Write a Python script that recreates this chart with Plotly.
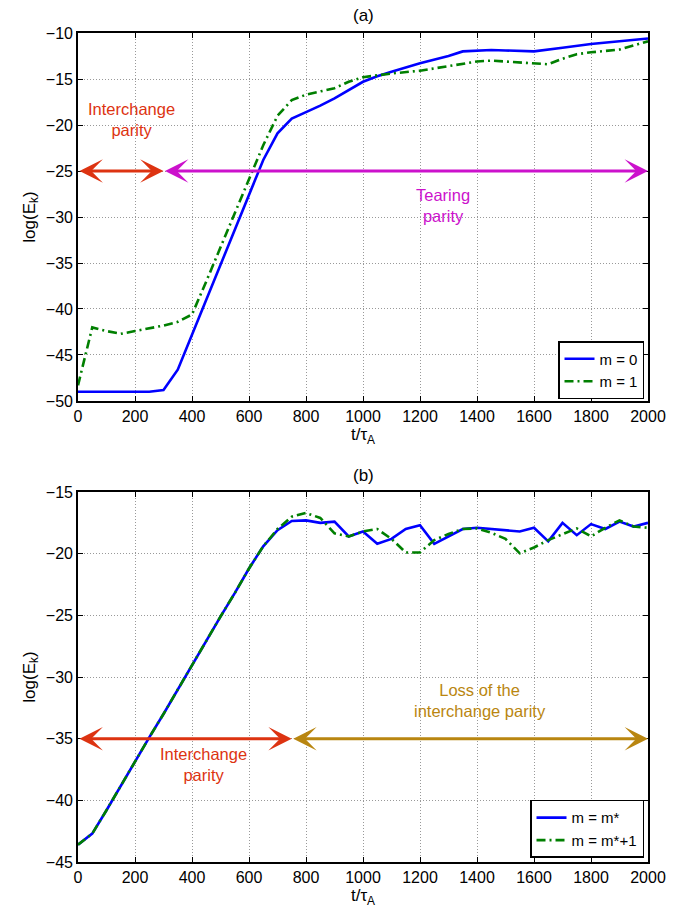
import plotly.graph_objects as go

# ---------------- panel (a) ----------------
t_a_m0 = [0, 50, 100, 150, 200, 250, 300, 350, 400, 450, 500, 550, 600, 650, 700,
          750, 800, 850, 900, 950, 1000, 1050, 1100, 1200, 1300, 1350, 1400, 1450,
          1500, 1600, 1700, 1800, 1900, 2000]
E_a_m0 = [-49.0, -49.0, -49.0, -49.0, -49.0, -49.0, -48.8, -46.6, -42.8, -39.0, -35.2,
          -31.3, -27.5, -23.8, -20.9, -19.3, -18.6, -17.9, -17.1, -16.2, -15.3, -14.7,
          -14.2, -13.3, -12.5, -12.0, -11.9, -11.85, -11.9, -12.0, -11.6, -11.2, -10.9,
          -10.6]

t_a_m1 = [0, 50, 100, 150, 200, 250, 300, 350, 400, 450, 500, 550, 600, 650, 700,
          750, 800, 900, 950, 1000, 1050, 1100, 1200, 1300, 1400, 1450, 1500, 1600,
          1650, 1700, 1750, 1800, 1900, 2000]
E_a_m1 = [-48.3, -42.0, -42.4, -42.7, -42.4, -42.1, -41.8, -41.4, -40.6, -37.0, -33.3,
          -29.6, -26.0, -22.2, -19.0, -17.3, -16.7, -16.0, -15.3, -14.8, -14.6, -14.4,
          -14.1, -13.6, -13.1, -13.0, -13.1, -13.3, -13.4, -12.8, -12.3, -12.1, -11.8,
          -10.9]

# ---------------- panel (b) ----------------
t_b = [0, 50, 100, 150, 200, 250, 300, 350, 400, 450, 500, 550, 600, 650, 700, 750,
       800, 850, 900, 950, 1000, 1050, 1100, 1150, 1200, 1250, 1300, 1350, 1400, 1450,
       1500, 1550, 1600, 1650, 1700, 1750, 1800, 1850, 1900, 1950, 2000]
E_b_mstar = [-43.6, -42.7, -40.8, -38.8, -36.9, -34.9, -33.0, -31.0, -29.0, -27.0, -25.1,
             -23.2, -21.2, -19.4, -18.1, -17.35, -17.3, -17.5, -17.4, -18.6, -18.2, -19.2,
             -18.8, -18.0, -17.7, -19.2, -18.6, -18.0, -17.9, -18.0, -18.1, -18.2, -17.9,
             -19.0, -17.5, -18.5, -17.6, -18.0, -17.4, -17.8, -17.5]
E_b_mstar1 = [-43.6, -42.7, -40.8, -38.8, -36.9, -34.9, -33.0, -31.0, -29.0, -27.0, -25.1,
              -23.2, -21.2, -19.4, -18.0, -17.0, -16.7, -17.1, -18.35, -18.6, -18.2, -18.0,
              -18.8, -19.9, -19.9, -18.9, -18.4, -18.0, -17.95, -18.3, -18.8, -19.97, -19.5,
              -18.9, -18.4, -17.95, -18.6, -17.9, -17.3, -17.8, -17.9]

x_ticks = list(range(0, 2001, 200))
y_ticks_a = list(range(-50, -9, 5))
y_ticks_b = list(range(-45, -14, 5))

BLUE = "#0000FF"
GREEN = "#007F00"
RED = "#DD3311"
MAGENTA = "#CC11CC"
GOLD = "#B98610"
FONT = "Liberation Sans, Arial, Helvetica, sans-serif"

fig = go.Figure()
fig.add_trace(go.Scatter(x=t_a_m0, y=E_a_m0, mode="lines", name="m = 0",
                         line=dict(color=BLUE, width=2.6), xaxis="x", yaxis="y",
                         legend="legend"))
fig.add_trace(go.Scatter(x=t_a_m1, y=E_a_m1, mode="lines", name="m = 1",
                         line=dict(color=GREEN, width=2.6, dash="9px,4px,2px,4px"),
                         xaxis="x", yaxis="y", legend="legend"))
fig.add_trace(go.Scatter(x=t_b, y=E_b_mstar, mode="lines", name="m = m*",
                         line=dict(color=BLUE, width=2.6), xaxis="x2", yaxis="y2",
                         legend="legend2"))
fig.add_trace(go.Scatter(x=t_b, y=E_b_mstar1, mode="lines", name="m = m*+1",
                         line=dict(color=GREEN, width=2.6, dash="9px,4px,2px,4px"),
                         xaxis="x2", yaxis="y2", legend="legend2"))

axis_style = dict(showline=True, linecolor="black", linewidth=1.6, mirror="ticks",
                  ticks="inside", ticklen=5, tickwidth=1, tickcolor="black",
                  showgrid=True, gridcolor="#999999", griddash="1px,2px", gridwidth=1,
                  zeroline=False, tickfont=dict(size=16, color="black"))

fig.update_layout(
    width=691, height=916,
    margin=dict(l=78, r=43, t=33, b=54),
    plot_bgcolor="white", paper_bgcolor="white",
    font=dict(family=FONT, size=16, color="black"),
    xaxis=dict(domain=[0, 1], anchor="y", range=[0, 2000], tickvals=x_ticks,
               title=dict(text="t/τ<sub>A</sub>", standoff=2, font=dict(size=17)),
               **axis_style),
    yaxis=dict(domain=[0.5561, 1], anchor="x", range=[-50, -10], tickvals=y_ticks_a,
               title=dict(text="log(E<sub>k</sub>)", standoff=6, font=dict(size=17)),
               **axis_style),
    xaxis2=dict(domain=[0, 1], anchor="y2", range=[0, 2000], tickvals=x_ticks,
                title=dict(text="t/τ<sub>A</sub>", standoff=2, font=dict(size=17)),
                **axis_style),
    yaxis2=dict(domain=[0, 0.4463], anchor="x2", range=[-45, -15], tickvals=y_ticks_b,
                title=dict(text="log(E<sub>k</sub>)", standoff=6, font=dict(size=17)),
                **axis_style),
    legend=dict(x=0.993, y=0.5585, xanchor="right", yanchor="bottom",
                bgcolor="white", bordercolor="black", borderwidth=1.5,
                font=dict(size=15), itemwidth=30, tracegroupgap=0),
    legend2=dict(x=0.993, y=0.005, xanchor="right", yanchor="bottom",
                 bgcolor="white", bordercolor="black", borderwidth=1.5,
                 font=dict(size=15), itemwidth=30, tracegroupgap=0),
    showlegend=True,
)

def double_arrow(x0, x1, y, color, xref, yref):
    fig.add_annotation(x=x1, y=y, ax=x0, ay=y, xref=xref, yref=yref,
                       axref=xref, ayref=yref, text="", showarrow=True,
                       arrowhead=3, startarrowhead=3, arrowside="end+start",
                       arrowsize=1.3, startarrowsize=1.3, arrowwidth=3,
                       arrowcolor=color, standoff=0, startstandoff=0)

double_arrow(0, 300, -25, RED, "x", "y")
double_arrow(300, 2000, -25, MAGENTA, "x", "y")
double_arrow(0, 750, -35, RED, "x2", "y2")
double_arrow(750, 2000, -35, GOLD, "x2", "y2")

labels = [
    (188, -19.4, "Interchange<br>parity", RED, "x", "y"),
    (1279, -28.7, "Tearing<br>parity", MAGENTA, "x", "y"),
    (440, -37.1, "Interchange<br>parity", RED, "x2", "y2"),
    (1411, -31.9, "Loss of the<br>interchange parity", GOLD, "x2", "y2"),
]
for x, y, txt, col, xr, yr in labels:
    fig.add_annotation(x=x, y=y, xref=xr, yref=yr, text=txt, showarrow=False,
                       font=dict(size=16.5, color=col), align="center")

fig.add_annotation(x=0.5, y=1.0217, xref="paper", yref="paper", text="(a)",
                   showarrow=False, font=dict(size=17), yanchor="middle")
fig.add_annotation(x=0.5, y=0.4668, xref="paper", yref="paper", text="(b)",
                   showarrow=False, font=dict(size=17), yanchor="middle")

fig.write_html("out.html")
